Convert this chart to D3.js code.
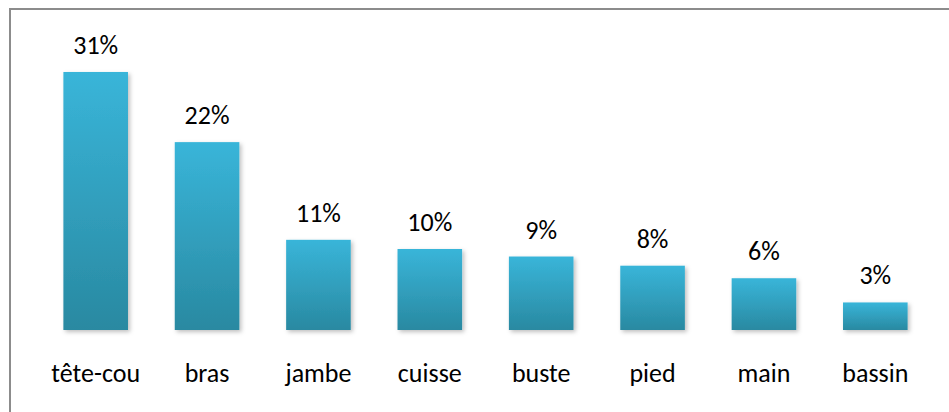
<!DOCTYPE html>
<html>
<head>
<meta charset="utf-8">
<script src="https://cdn.jsdelivr.net/npm/d3@7"></script>
<style>
  body { margin: 0; background: #fff; }
  svg { display: block; }
  text { font-family: Carlito, Lato, "Liberation Sans", sans-serif; fill: #000; }
</style>
</head>
<body>
<svg width="949" height="412"></svg>
<script>
// parts of the body, share of cases
var categories = ["tête-cou", "bras", "jambe", "cuisse", "buste", "pied", "main", "bassin"];
var values = [0.309, 0.225, 0.108, 0.097, 0.088, 0.077, 0.062, 0.033];
var labels = ["31%", "22%", "11%", "10%", "9%", "8%", "6%", "3%"];

var svg = d3.select("svg"),
    width = +svg.attr("width"),
    height = +svg.attr("height");

var baseY = 330;

var x = d3.scaleBand()
    .domain(categories)
    .range([40, 931])
    .paddingInner(0.42)
    .paddingOuter(0.21);

var y = d3.scaleLinear()
    .domain([0, 0.35])
    .range([baseY, baseY - 0.35 * 835]);

var defs = svg.append("defs");
var grad = defs.append("linearGradient")
    .attr("id", "barGrad")
    .attr("x1", 0).attr("y1", 0).attr("x2", 0).attr("y2", 1);
grad.append("stop").attr("offset", "0%").attr("stop-color", "#39b5d9");
grad.append("stop").attr("offset", "100%").attr("stop-color", "#2989a1");

var shadow = defs.append("filter")
    .attr("id", "shadow")
    .attr("x", "-20%").attr("y", "-20%")
    .attr("width", "140%").attr("height", "140%");
shadow.append("feDropShadow")
    .attr("dx", 2).attr("dy", 2)
    .attr("stdDeviation", 2)
    .attr("flood-color", "#000")
    .attr("flood-opacity", 0.25);

// frame (right and bottom cropped in the original)
svg.append("rect")
    .attr("x", 10).attr("y", 9)
    .attr("width", 950).attr("height", 420)
    .attr("fill", "none")
    .attr("stroke", "#8c8c8c")
    .attr("stroke-width", 2);

svg.append("g")
    .selectAll("rect")
    .data(values)
    .enter().append("rect")
    .attr("x", function(d, i) { return x(categories[i]); })
    .attr("y", function(d) { return y(d); })
    .attr("width", x.bandwidth())
    .attr("height", function(d) { return baseY - y(d); })
    .attr("fill", "url(#barGrad)")
    .attr("filter", "url(#shadow)");

// axis line
var xAxis = d3.axisBottom(x).tickSize(0).tickPadding(0);
var ax = svg.append("g")
    .attr("transform", "translate(0," + baseY + ")")
    .call(xAxis);
ax.select(".domain")
    .attr("stroke", "#868686")
    .attr("stroke-width", 2)
    .attr("filter", "url(#shadow)");
ax.selectAll(".tick text")
    .attr("y", 52)
    .attr("dy", 0)
    .style("font-size", "26px")
    .style("font-family", "Carlito, Lato, 'Liberation Sans', sans-serif")
    .attr("fill", "#000");

svg.append("g")
    .selectAll("text")
    .data(values)
    .enter().append("text")
    .attr("x", function(d, i) { return x(categories[i]) + x.bandwidth() / 2; })
    .attr("y", function(d) { return y(d) - 18; })
    .attr("text-anchor", "middle")
    .style("font-size", "26px")
    .text(function(d, i) { return labels[i]; });
</script>
</body>
</html>
